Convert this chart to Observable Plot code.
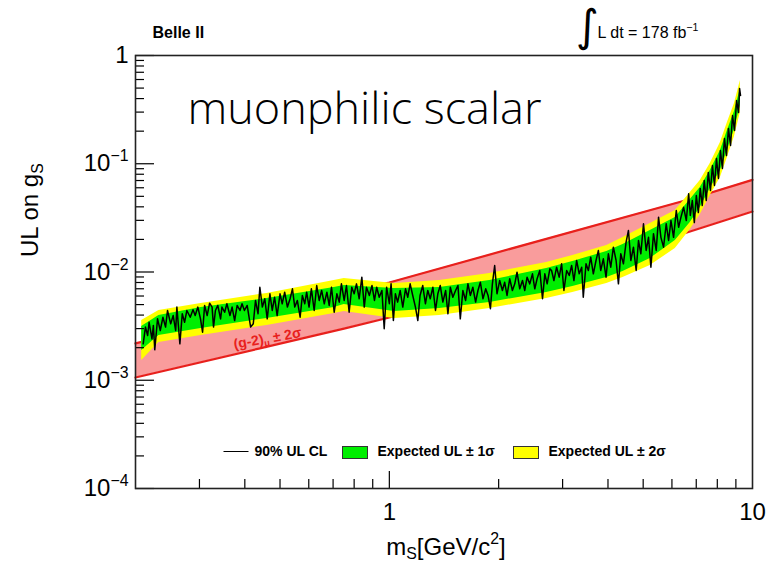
<!DOCTYPE html>
<html><head><meta charset="utf-8">
<script src="https://cdn.jsdelivr.net/npm/d3@7"></script>
<script src="https://cdn.jsdelivr.net/npm/@observablehq/plot@0.6"></script>
<style>
html,body{margin:0;padding:0;background:#fff;}
#chart{width:768px;height:564px;overflow:hidden;}
</style></head><body><div id="chart"></div>
<script>
// (g-2)_mu +-2 sigma band
const redMass = [0.2, 0.437, 0.75, 1.0, 2.6, 6.6, 10];
const redHi   = [2.19e-3, 4.14e-3, 6.41e-3, 8.0e-3, 1.95e-2, 4.62e-2, 7.1e-2];
const redLo   = [1.06e-3, 1.96e-3, 3.0e-3, 3.8e-3, 9.5e-3, 2.32e-2, 3.62e-2];

// Expected UL bands
const expMass = [0.208, 0.232, 0.303, 0.46, 0.705, 0.751, 1.032, 1.375, 1.89, 2.71, 3.20, 3.97, 4.40, 5.23, 6.13, 6.74, 7.18, 7.65, 8.16, 8.53, 8.92, 9.26];
const exp2Hi = [3.56e-3, 4.41e-3, 5.12e-3, 6.33e-3, 8.34e-3, 8.71e-3, 7.83e-3, 8.34e-3, 9.68e-3, 1.225e-2, 1.419e-2, 1.758e-2, 2.084e-2, 2.806e-2, 3.70e-2, 5.43e-2, 7.00e-2, 0.1005, 0.157, 0.2405, 0.360, 0.5875];
const exp1Hi = [3.14e-3, 3.96e-3, 4.70e-3, 5.69e-3, 7.19e-3, 7.50e-3, 7.04e-3, 7.19e-3, 8.34e-3, 1.077e-2, 1.25e-2, 1.546e-2, 1.795e-2, 2.417e-2, 3.19e-2, 4.68e-2, 6.04e-2, 8.66e-2, 0.1325, 0.2028, 0.3035, 0.4955];
const exp1Lo = [1.88e-3, 2.59e-3, 3.01e-3, 3.72e-3, 4.70e-3, 5.01e-3, 4.32e-3, 4.60e-3, 5.23e-3, 6.47e-3, 7.34e-3, 8.90e-3, 1.011e-2, 1.333e-2, 1.954e-2, 2.87e-2, 3.94e-2, 5.90e-2, 8.67e-2, 0.1325, 0.2071, 0.345];
const exp2Lo = [1.52e-3, 2.23e-3, 2.59e-3, 3.21e-3, 4.14e-3, 4.32e-3, 3.72e-3, 3.96e-3, 4.60e-3, 5.69e-3, 6.47e-3, 7.83e-3, 8.90e-3, 1.148e-2, 1.648e-2, 2.47e-2, 3.40e-2, 5.09e-2, 7.46e-2, 0.1142, 0.1786, 0.2974];

// Observed 90% CL upper limit
const obsMass = [0.210,0.213,0.216,0.218,0.222,0.224,0.226,0.230,0.234,0.238,0.242,0.245,0.250,0.254,0.258,0.260,0.265,0.269,0.273,0.277,0.283,0.288,0.292,0.297,0.302,0.306,0.310,0.315,0.320,0.325,0.328,0.332,0.337,0.343,0.346,0.352,0.357,0.364,0.369,0.375,0.381,0.388,0.393,0.399,0.406,0.415,0.422,0.428,0.435,0.440,0.447,0.454,0.461,0.469,0.476,0.483,0.491,0.500,0.507,0.515,0.524,0.533,0.541,0.549,0.558,0.568,0.576,0.585,0.592,0.601,0.610,0.621,0.631,0.641,0.651,0.662,0.673,0.683,0.693,0.705,0.717,0.728,0.738,0.751,
0.762,0.775,0.788,0.800,0.812,0.826,0.840,0.853,0.865,0.881,0.896,0.910,0.923,0.938,0.954,0.968,0.983,1.000,1.011,1.026,1.039,1.054,1.071,1.089,1.108,1.124,1.141,1.160,1.180,1.198,1.215,1.236,1.257,1.276,1.296,1.318,1.340,1.360,1.381,1.404,1.429,1.450,1.472,1.496,1.522,1.545,1.568,1.594,1.622,1.646,1.671,1.698,1.728,1.754,1.781,1.811,1.842,1.870,1.898,1.922,1.950,1.979,2.013,2.048,2.078,2.109,2.145,2.182,2.215,2.247,2.286,2.326,2.360,2.395,2.436,2.478,2.515,2.552,2.596,2.641,2.680,2.720,2.767,
2.797,2.839,2.888,2.935,2.981,3.025,3.078,3.129,3.177,3.223,3.279,3.333,3.386,3.420,3.480,3.532,3.585,3.645,3.708,3.764,3.820,3.884,3.951,4.010,4.071,4.139,4.211,4.274,4.338,4.411,4.487,4.554,4.624,4.701,4.783,4.854,4.927,5.010,5.096,5.172,5.251,5.338,5.431,5.512,5.595,5.689,5.787,5.874,5.963,6.062,6.168,6.260,6.354,6.461,6.573,6.671,
6.741,6.827,6.915,7.004,7.093,7.180,7.272,7.365,7.460,7.555,7.660,7.758,7.858,7.959,8.060,8.160,8.264,8.371,8.478,8.586,8.700,8.811,8.924,9.039,9.154,9.212,9.270];
const obsUL = [2.17e-3,3.10e-3,2.59e-3,3.43e-3,2.41e-3,3.21e-3,1.91e-3,3.69e-3,2.88e-3,3.82e-3,3.10e-3,4.41e-3,3.32e-3,3.96e-3,2.88e-3,4.74e-3,2.17e-3,4.11e-3,3.43e-3,4.41e-3,3.82e-3,4.48e-3,3.96e-3,4.74e-3,3.69e-3,2.78e-3,4.91e-3,3.96e-3,5.15e-3,4.74e-3,3.10e-3,4.41e-3,4.91e-3,3.69e-3,4.74e-3,4.25e-3,5.09e-3,3.96e-3,4.74e-3,3.56e-3,4.91e-3,4.41e-3,5.09e-3,4.41e-3,4.91e-3,3.10e-3,3.32e-3,5.46e-3,4.11e-3,7.23e-3,4.74e-3,5.66e-3,3.69e-3,6.29e-3,4.41e-3,5.85e-3,3.96e-3,6.29e-3,5.09e-3,6.51e-3,4.74e-3,5.66e-3,6.99e-3,4.74e-3,5.46e-3,3.82e-3,6.07e-3,5.09e-3,6.51e-3,4.74e-3,6.99e-3,4.41e-3,7.50e-3,5.46e-3,6.75e-3,5.09e-3,6.51e-3,4.91e-3,7.23e-3,4.25e-3,6.29e-3,5.27e-3,7.77e-3,5.46e-3,
7.50e-3,4.25e-3,7.23e-3,6.29e-3,7.77e-3,5.66e-3,8.96e-3,4.74e-3,7.23e-3,6.07e-3,7.50e-3,5.46e-3,7.23e-3,5.85e-3,6.75e-3,2.99e-3,7.23e-3,5.09e-3,7.77e-3,3.56e-3,6.29e-3,5.27e-3,6.75e-3,4.74e-3,6.99e-3,5.85e-3,7.77e-3,6.07e-3,4.74e-3,3.56e-3,6.07e-3,7.50e-3,5.09e-3,6.75e-3,5.66e-3,7.23e-3,4.41e-3,6.29e-3,7.50e-3,5.27e-3,6.75e-3,4.11e-3,7.23e-3,5.85e-3,6.75e-3,7.50e-3,3.69e-3,6.75e-3,5.46e-3,7.77e-3,6.07e-3,7.23e-3,5.27e-3,6.75e-3,8.04e-3,5.66e-3,6.99e-3,6.07e-3,4.58e-3,7.77e-3,1.148e-2,6.29e-3,8.34e-3,6.75e-3,8.04e-3,6.07e-3,8.66e-3,6.75e-3,7.77e-3,9.95e-3,6.99e-3,8.34e-3,6.75e-3,8.96e-3,7.77e-3,9.62e-3,6.99e-3,8.66e-3,1.032e-2,5.66e-3,9.62e-3,7.77e-3,1.07e-2,
1.032e-2,8.34e-3,1.107e-2,8.96e-3,1.19e-2,6.75e-3,1.032e-2,9.29e-3,1.148e-2,8.34e-3,1.277e-2,9.62e-3,1.107e-2,5.85e-3,1.19e-2,1.032e-2,1.369e-2,9.62e-3,1.277e-2,1.581e-2,1.032e-2,1.323e-2,8.96e-3,1.474e-2,1.107e-2,1.696e-2,1.277e-2,7.77e-3,1.474e-2,1.19e-2,1.885e-2,2.42e-2,1.277e-2,1.696e-2,1.032e-2,1.954e-2,1.474e-2,2.79e-2,1.581e-2,2.09e-2,1.107e-2,2.26e-2,1.581e-2,3.21e-2,2.09e-2,1.696e-2,2.79e-2,1.954e-2,2.99e-2,2.09e-2,3.70e-2,2.59e-2,3.21e-2,3.96e-2,2.99e-2,5.28e-2,
3.33e-2,4.57e-2,2.86e-2,5.09e-2,3.54e-2,5.92e-2,4.11e-2,7.00e-2,4.57e-2,8.31e-2,5.66e-2,9.64e-2,6.30e-2,0.1117,7.31e-2,0.1325,9.05e-2,0.1713,0.119,0.2117,0.1475,0.279,0.2028,0.384,0.297,0.496,0.427];

// Axis ticks and labels
const xLabelTicks = [1, 10];
const xMajorTicks = [1];
const xMinorTicks = [0.3,0.4,0.5,0.6,0.7,0.8,0.9,2,3,4,5,6,7,8,9];
const yMajorTicks = [1e-4, 1e-3, 1e-2, 1e-1, 1];
const yMinorTicks = [];
for (const d of [1e-4, 1e-3, 1e-2, 1e-1]) for (const k of [2,3,4,5,6,7,8,9]) yMinorTicks.push(+(d*k).toPrecision(3));
const yTickText = ["10^{−4}", "10^{−3}", "10^{−2}", "10^{−1}", "1"];

const bandLabel = [{m: 0.462, g: 2.43e-3, text: "(g-2)_{μ} ± 2σ"}];
const legendItems = ["90% UL CL", "Expected UL ± 1σ", "Expected UL ± 2σ"];

const redRows = redMass.map((m,i)=>({m, hi: redHi[i], lo: redLo[i]}));
const expRows = expMass.map((m,i)=>({m, y2hi: exp2Hi[i], y1hi: exp1Hi[i], y1lo: exp1Lo[i], y2lo: exp2Lo[i]}));
const obsRows = obsMass.map((m,i)=>({m, g: obsUL[i]}));

const RED = "#e8201c";
const font = "Liberation Sans, Arial, Helvetica, sans-serif";

const chart = Plot.plot({
  width: 768, height: 564,
  marginLeft: 135, marginRight: 16, marginTop: 55, marginBottom: 76,
  style: {fontFamily: font, background: "#fff", overflow: "visible", color: "#000"},
  x: {type: "log", domain: [0.2, 10]},
  y: {type: "log", domain: [1e-4, 1]},
  marks: [
    Plot.areaY(redRows, {x: "m", y1: "lo", y2: "hi", fill: "#f99c9c"}),
    Plot.line(redRows, {x: "m", y: "hi", stroke: RED, strokeWidth: 2.2}),
    Plot.line(redRows, {x: "m", y: "lo", stroke: RED, strokeWidth: 2.2}),
    Plot.areaY(expRows, {x: "m", y1: "y2lo", y2: "y2hi", fill: "#ffff00"}),
    Plot.areaY(expRows, {x: "m", y1: "y1lo", y2: "y1hi", fill: "#00ee00"}),
    Plot.line(obsRows, {x: "m", y: "g", stroke: "#000", strokeWidth: 1.5}),
    Plot.text(bandLabel, {x: "m", y: "g", text: "text", rotate: -10, fill: RED, fontWeight: "bold", fontSize: 14}),
    // ticks (inside, ROOT style)
    Plot.axisY({ticks: yMajorTicks, tickSize: -19, tickFormat: () => "", label: null, strokeWidth: 1.2}),
    Plot.axisY({ticks: yMinorTicks, tickSize: -9, tickFormat: () => "", label: null, strokeWidth: 1.2}),
    Plot.axisX({ticks: xMajorTicks, tickSize: -17, tickFormat: () => "", label: null, strokeWidth: 1.2}),
    Plot.axisX({ticks: xMinorTicks, tickSize: -9, tickFormat: () => "", label: null, strokeWidth: 1.2}),
    Plot.axisY({ticks: yMajorTicks, tickSize: 0, tickPadding: 7, tickFormat: (d,i) => yTickText[yMajorTicks.indexOf(d)], label: null, fontSize: 24}),
    Plot.axisX({ticks: xLabelTicks, tickSize: 0, tickPadding: 14, tickFormat: d => String(d), label: null, fontSize: 24}),
    Plot.frame({stroke: "#222", strokeWidth: 1.6}),
    // axis titles
    Plot.text(["UL on g_{S}"], {text: d => d, frameAnchor: "left", dx: -105, dy: -15, rotate: -90, fontSize: 24}),
    Plot.text(["m_{S}[GeV/c^{2}]"], {text: d => d, frameAnchor: "bottom", dx: 2, dy: 66, lineAnchor: "bottom", fontSize: 24}),
    // header texts
    Plot.text(["Belle II"], {text: d => d, frameAnchor: "top-left", dx: 17, dy: -18, textAnchor: "start", lineAnchor: "bottom", fontSize: 16, fontWeight: "bold"}),
    Plot.text(["∫"], {text: d => d, frameAnchor: "top-left", dx: 452, dy: -15, textAnchor: "middle", lineAnchor: "bottom", fontSize: 44, fontFamily: "DejaVu Sans"}),
    Plot.text(["L dt = 178 fb^{−1}"], {text: d => d, frameAnchor: "top-left", dx: 462, dy: -18, textAnchor: "start", lineAnchor: "bottom", fontSize: 16}),
    Plot.text(["muonphilic scalar"], {text: d => d, frameAnchor: "top-left", dx: 52, dy: 68, textAnchor: "start", lineAnchor: "bottom", fontSize: 45, fontFamily: "Open Sans", fontWeight: 300}),
    // legend
    Plot.frame({fill: "#000", stroke: null, insetLeft: 88, insetRight: 504, insetTop: 395.5, insetBottom: 36.5}),
    Plot.frame({fill: "#00ee00", stroke: "#333", strokeWidth: 1, insetLeft: 207, insetRight: 385, insetTop: 391, insetBottom: 30}),
    Plot.frame({fill: "#ffff00", stroke: "#333", strokeWidth: 1, insetLeft: 378, insetRight: 214, insetTop: 391, insetBottom: 30}),
    Plot.text([legendItems[0]], {text: d => d, frameAnchor: "top-left", dx: 119, dy: 396, textAnchor: "start", lineAnchor: "middle", fontSize: 14, fontWeight: "bold"}),
    Plot.text([legendItems[1]], {text: d => d, frameAnchor: "top-left", dx: 242, dy: 396, textAnchor: "start", lineAnchor: "middle", fontSize: 14, fontWeight: "bold"}),
    Plot.text([legendItems[2]], {text: d => d, frameAnchor: "top-left", dx: 413, dy: 396, textAnchor: "start", lineAnchor: "middle", fontSize: 14, fontWeight: "bold"})
  ]
});

document.getElementById("chart").appendChild(chart);

// superscripts / subscripts as tspans
function richText(root) {
  root.querySelectorAll("text").forEach(t => {
    const s = t.textContent;
    if (!/[\^_]\{/.test(s)) return;
    const base = parseFloat(getComputedStyle(t).fontSize) || 12;
    while (t.firstChild) t.removeChild(t.firstChild);
    const re = /([\^_])\{([^}]*)\}/g;
    let last = 0, m, shift = 0;
    const add = (txt, kind) => {
      if (!txt) return;
      const ts = document.createElementNS("http://www.w3.org/2000/svg", "tspan");
      const target = kind === "^" ? -0.42 * base : kind === "_" ? 0.2 * base : 0;
      if (Math.abs(target - shift) > 1e-6) ts.setAttribute("dy", (target - shift).toFixed(2));
      shift = target;
      if (kind) ts.setAttribute("font-size", (0.66 * base).toFixed(2));
      ts.textContent = txt;
      t.appendChild(ts);
    };
    while ((m = re.exec(s))) { add(s.slice(last, m.index), null); add(m[2], m[1]); last = re.lastIndex; }
    add(s.slice(last), null);
  });
}
richText(chart);
</script>
</body></html>
